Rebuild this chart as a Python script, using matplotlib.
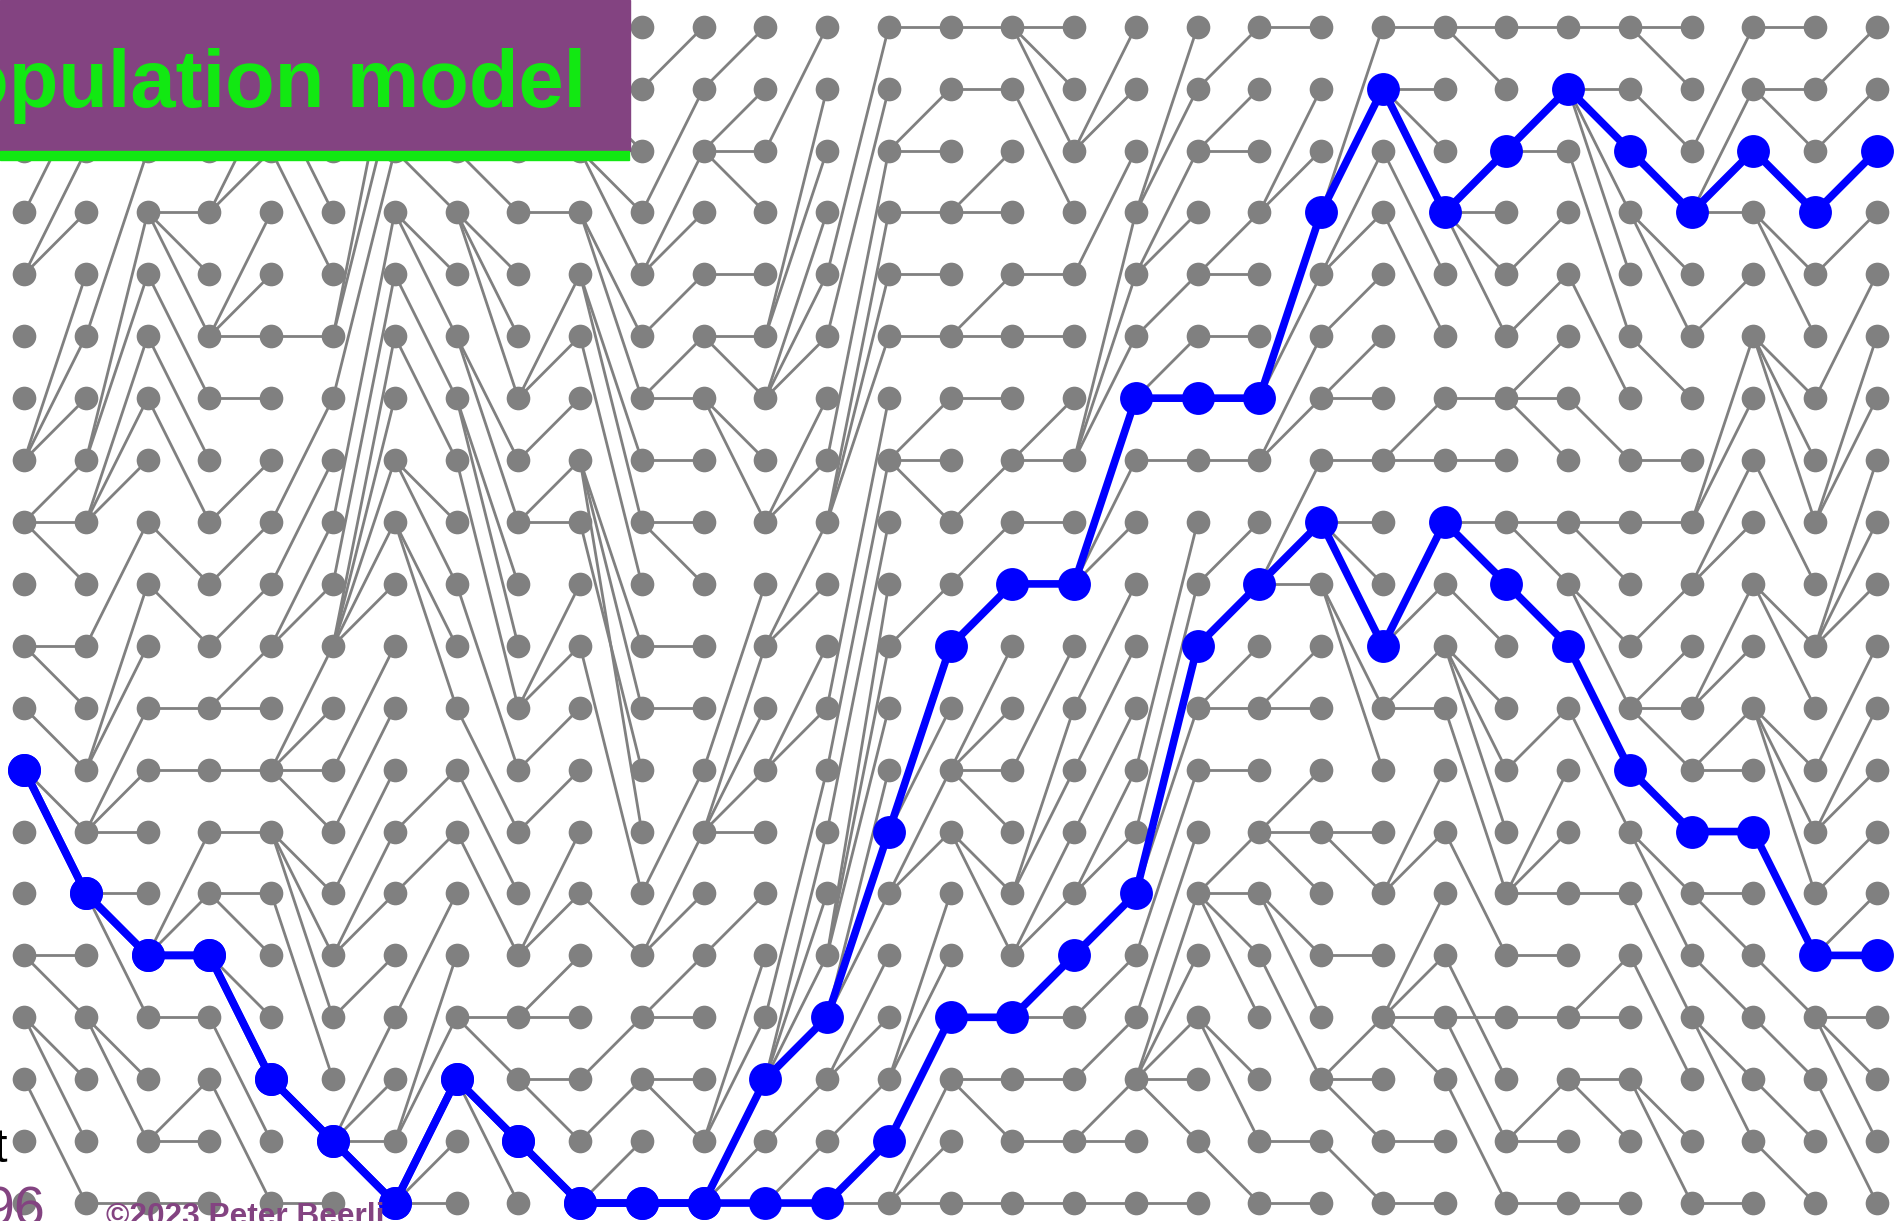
import numpy as np
import matplotlib.pyplot as plt
from matplotlib.patches import Rectangle

# Wright-Fisher style genealogy: 31 generations (columns) x 20 individuals (rows).
# genNN[r] = row of the parent (in generation NN-1) of individual r in generation NN
gen01 = [0, 3, 4, 4, 7, 7, 7, 8, 8, 8, 10, 10, 11, 12, 12, 15, 15, 16, 16, 17]
gen02 = [0, 1, 5, 7, 7, 8, 8, 8, 10, 12, 12, 13, 13, 13, 14, 14, 14, 16, 16, 19]
gen03 = [0, 1, 2, 3, 3, 3, 4, 5, 6, 8, 9, 11, 12, 15, 15, 15, 16, 18, 18, 19]
gen04 = [0, 3, 3, 5, 5, 5, 6, 8, 9, 10, 11, 11, 12, 13, 14, 14, 15, 15, 16, 17]
gen05 = [0, 1, 2, 1, 2, 5, 8, 9, 10, 10, 12, 12, 12, 12, 13, 13, 13, 14, 17, 19]
gen06 = [5, 5, 6, 8, 9, 10, 10, 10, 10, 10, 12, 13, 14, 15, 15, 16, 18, 18, 18, 18]
gen07 = [0, 1, 1, 2, 3, 3, 4, 5, 7, 7, 8, 8, 13, 14, 16, 18, 18, 19, 19, 19]
gen08 = [0, 1, 2, 2, 3, 3, 3, 5, 5, 6, 6, 7, 9, 11, 12, 13, 16, 16, 17, 17]
gen09 = [0, 1, 2, 3, 6, 6, 7, 8, 8, 11, 11, 12, 13, 15, 15, 16, 16, 17, 17, 18]
gen10 = [0, 1, 1, 2, 2, 3, 3, 4, 4, 5, 7, 7, 8, 7, 10, 14, 17, 18, 19, 19]
gen11 = [1, 3, 4, 4, 5, 6, 6, 7, 8, 8, 10, 11, 14, 15, 15, 16, 16, 17, 17, 19]
gen12 = [1, 2, 2, 2, 4, 5, 5, 6, 6, 12, 13, 13, 13, 13, 15, 18, 18, 19, 19, 19]
gen13 = [2, 5, 5, 6, 6, 6, 8, 8, 10, 10, 12, 12, 16, 17, 17, 17, 17, 18, 19, 19]
gen14 = [4, 5, 7, 8, 8, 8, 11, 12, 13, 15, 15, 15, 16, 16, 16, 17, 17, 18, 19, 19]
gen15 = [0, 2, 2, 3, 4, 5, 7, 7, 7, 10, 13, 13, 14, 14, 17, 17, 18, 19, 19, 19]
gen16 = [0, 1, 3, 3, 5, 5, 6, 8, 9, 10, 12, 12, 12, 12, 13, 13, 16, 17, 17, 19]
gen17 = [0, 0, 0, 1, 4, 5, 7, 7, 8, 9, 12, 14, 14, 15, 15, 16, 16, 17, 18, 19]
gen18 = [2, 2, 4, 7, 7, 7, 9, 9, 9, 11, 12, 13, 14, 14, 15, 16, 17, 18, 18, 19]
gen19 = [3, 3, 4, 4, 5, 6, 6, 7, 12, 13, 14, 14, 15, 16, 17, 17, 17, 17, 17, 19]
gen20 = [1, 2, 2, 4, 4, 5, 6, 7, 9, 10, 11, 11, 12, 14, 14, 14, 14, 16, 16, 18]
gen21 = [0, 3, 3, 6, 6, 7, 7, 9, 9, 9, 11, 11, 13, 13, 13, 14, 14, 15, 18, 19]
gen22 = [3, 3, 4, 4, 5, 6, 6, 7, 8, 8, 8, 9, 9, 13, 13, 15, 17, 17, 17, 18]
gen23 = [0, 1, 1, 1, 2, 3, 7, 7, 10, 10, 11, 11, 14, 14, 16, 16, 16, 16, 18, 19]
gen24 = [0, 0, 3, 3, 3, 3, 6, 7, 8, 8, 9, 10, 10, 10, 11, 13, 16, 15, 16, 17]
gen25 = [0, 2, 2, 4, 5, 6, 6, 6, 8, 8, 9, 12, 14, 14, 14, 15, 16, 18, 18, 19]
gen26 = [0, 1, 1, 1, 1, 2, 4, 6, 8, 8, 9, 9, 10, 11, 14, 16, 16, 17, 17, 19]
gen27 = [0, 0, 1, 2, 3, 3, 5, 7, 8, 10, 11, 11, 11, 12, 13, 13, 14, 15, 17, 17]
gen28 = [2, 3, 3, 3, 5, 8, 8, 9, 9, 11, 11, 12, 12, 13, 14, 14, 15, 16, 16, 19]
gen29 = [0, 1, 1, 2, 3, 3, 5, 5, 5, 7, 9, 9, 11, 11, 11, 13, 15, 16, 17, 18]
gen30 = [1, 2, 3, 4, 6, 8, 8, 10, 10, 10, 12, 13, 13, 14, 15, 15, 16, 16, 16, 17]

parents = [gen01, gen02, gen03, gen04, gen05, gen06, gen07, gen08, gen09, gen10,
           gen11, gen12, gen13, gen14, gen15, gen16, gen17, gen18, gen19, gen20,
           gen21, gen22, gen23, gen24, gen25, gen26, gen27, gen28, gen29, gen30]

# sampled individuals in the last generation whose ancestry is traced
samples = [2, 15]

n_gen = len(parents) + 1
n_pop = len(gen01)

gray = "#808080"
blue = "#0000ff"
purple = "#834381"
green = "#12e812"

W, H = 1901, 1221
fig = plt.figure(figsize=(W / 100, H / 100), dpi=100)
ax = fig.add_axes([0, 0, 1, 1])
ax.set_xlim(-0.392, 30.39)
ax.set_ylim(19.29, -0.431)
ax.axis("off")

# parent -> child links
for g, par in enumerate(parents, start=1):
    for r, p in enumerate(par):
        ax.plot([g - 1, g], [p, r], color=gray, lw=2.0, zorder=1,
                solid_capstyle="round")

gx, gy = np.meshgrid(np.arange(n_gen), np.arange(n_pop))
ax.scatter(gx.ravel(), gy.ravel(), s=290, color=gray, linewidths=0, zorder=2)

# trace the sampled lineages back to the first generation
for start in samples:
    path = [start]
    for g in range(n_gen - 1, 0, -1):
        path.append(parents[g - 1][path[-1]])
    path = path[::-1]
    ax.plot(range(n_gen), path, color=blue, lw=5.5, zorder=3,
            solid_capstyle="round", solid_joinstyle="round")
    ax.scatter(range(n_gen), path, s=560, color=blue, linewidths=0, zorder=4)

# slide title box (cropped)
fig.add_artist(Rectangle((0, 1 - 151 / H), 630 / W, 151 / H,
                         transform=fig.transFigure, color=purple, zorder=10))
fig.add_artist(Rectangle((0, 1 - 160 / H), 629 / W, 9 / H,
                         transform=fig.transFigure, color=green, zorder=10))
fig.text(586 / W, 1 - 107 / H, "Population model", ha="right", va="baseline",
         fontsize=58.5, fontweight="bold", color=green,
         family="Liberation Sans", zorder=11)

# cropped slide footer
fig.text(7 / W, 1 - 1162 / H, "t", ha="right", va="baseline", fontsize=35,
         color="black", family="Liberation Sans", zorder=11)
fig.text(45 / W, 1 - 1226 / H, "96", ha="right", va="baseline", fontsize=40,
         color=purple, family="Liberation Sans", zorder=11)
fig.text(106 / W, 1 - 1225 / H, "\u00a92023 Peter Beerli", ha="left",
         va="baseline", fontsize=22.8, fontweight="bold", color=purple,
         family="Liberation Sans", zorder=11)

fig.savefig("out.png", dpi=100)
